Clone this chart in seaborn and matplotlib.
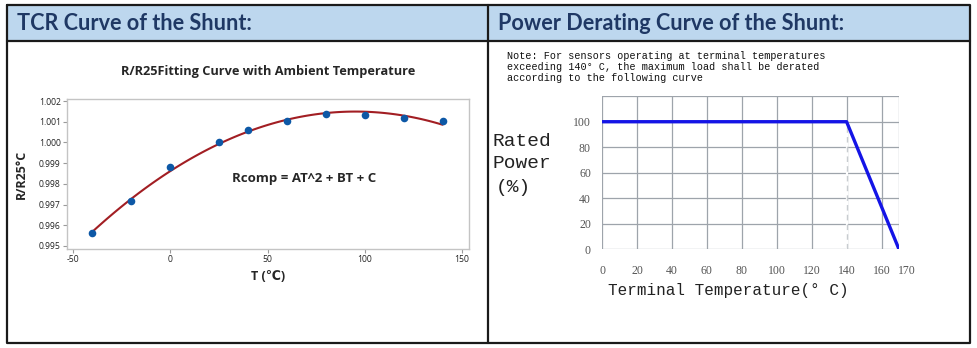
import matplotlib
matplotlib.use("Agg")
import matplotlib.pyplot as plt
import matplotlib.transforms as mtransforms
import seaborn as sns
import pandas as pd
from matplotlib.patches import Rectangle

# ---------------- data ----------------
tcr_temp = [-40, -20, 0, 25, 40, 60, 80, 100, 120, 140]
tcr_ratio = [0.99562, 0.99717, 0.99882, 1.00000, 1.00060, 1.00106,
             1.00136, 1.00133, 1.00119, 1.00104]
tcr_xticks = [-50, 0, 50, 100, 150]
tcr_yticks = [0.995, 0.996, 0.997, 0.998, 0.999, 1.000, 1.001, 1.002]

derate_temp = [0, 140, 170]
derate_power = [100, 100, 0]
derate_xticks = [0, 20, 40, 60, 80, 100, 120, 140, 160, 170]
derate_yticks = [0, 20, 40, 60, 80, 100]

W, H = 977, 348
sns.set_theme(style="white")
plt.rcParams["font.family"] = ["Open Sans", "DejaVu Sans"]

fig = plt.figure(figsize=(W / 100, H / 100), dpi=100)
fig.patch.set_facecolor("white")

def fax(l, t, r, b):
    return [l / W, (H - b) / H, (r - l) / W, (b - t) / H]

# ---------------- background frame ----------------
bg = fig.add_axes([0, 0, 1, 1], zorder=0)
bg.set_xlim(0, W)
bg.set_ylim(H, 0)
bg.axis("off")
bg.add_patch(Rectangle((6.5, 5), 963.5, 35, facecolor="#bdd7ee", edgecolor="none"))
lc = "#1a1a1a"
bg.plot([6.5, 970, 970, 6.5, 6.5], [5, 5, 342.5, 342.5, 5], color=lc, lw=1.6)
bg.plot([6.5, 970], [40.5, 40.5], color=lc, lw=1.6)
bg.plot([488, 488], [5, 342.5], color=lc, lw=1.6)
hdr = dict(fontsize=15.6, fontweight="bold", color="#1f3864", va="center",
           family=["Lato", "DejaVu Sans"])
bg.text(17, 23, "TCR Curve of the Shunt:", **hdr)
bg.text(498, 23, "Power Derating Curve of the Shunt:", **hdr)

# ---------------- left: TCR ----------------
ax1 = fig.add_axes(fax(67, 99, 469, 249), zorder=2)
df1 = pd.DataFrame({"T": tcr_temp, "R": tcr_ratio})
sns.regplot(data=df1, x="T", y="R", order=2, ci=None, ax=ax1,
            scatter_kws=dict(s=30, color="#0d58a6", zorder=3, linewidths=0, alpha=1),
            line_kws=dict(color="#a21e23", lw=1.5, zorder=2))
ax1.set_xlim(-53.1, 153.6)
ax1.set_ylim(0.99485, 1.0021)
ax1.set_xticks(tcr_xticks)
ax1.set_xticklabels([str(v) for v in tcr_xticks])
ax1.set_yticks(tcr_yticks)
ax1.set_yticklabels([f"{v:.3f}" for v in tcr_yticks])
for s in ax1.spines.values():
    s.set_color("#c4c4c4")
    s.set_linewidth(1.0)
ax1.tick_params(axis="both", labelsize=6.2, colors="#222222", length=3, width=0.8,
                direction="out", pad=1.5, bottom=True, left=True)
ax1.tick_params(axis="both", color="#9a9a9a")
ax1.set_xlabel("T (℃)", fontsize=9, fontweight="bold", labelpad=4)
ax1.set_ylabel("R/R25°C", fontsize=9, fontweight="bold", labelpad=8)
ax1.set_title("R/R25Fitting Curve with Ambient Temperature", fontsize=9.2,
              fontweight="bold", pad=17)
ax1.text(69, 0.99828, "Rcomp = AT^2 + BT + C", fontsize=9.5, fontweight="bold",
         ha="center", va="center")

# ---------------- right: derating ----------------
ax2 = fig.add_axes(fax(602, 96.2, 899, 249.3), zorder=2)
df2 = pd.DataFrame({"temp": derate_temp, "power": derate_power})
ax2.set_xlim(0, 170)
ax2.set_ylim(0, 120)
gc = "#9ea4ab"
for xv in derate_xticks:
    ax2.axvline(xv, color=gc, lw=0.9, zorder=1)
for yv in derate_yticks + [120]:
    ax2.axhline(yv, color=gc, lw=0.9, zorder=1)
ax2.vlines(140, 0, 100, color="white", lw=1.6, zorder=1.5)
ax2.vlines(140, 0, 100, color="#c8ccd0", lw=1.0, linestyles=(0, (4, 3)), zorder=1.6)
sns.lineplot(data=df2, x="temp", y="power", ax=ax2, color="#1414e6", lw=2.4,
             zorder=3, sort=False)
for s in ax2.spines.values():
    s.set_visible(False)
ax2.set_xticks(derate_xticks)
ax2.set_xticklabels([str(v) for v in derate_xticks])
ax2.set_yticks(derate_yticks)
ax2.set_yticklabels([str(v) for v in derate_yticks])
ax2.tick_params(axis="both", length=0, labelsize=8.5, colors="#555555")
ax2.tick_params(axis="x", pad=11)
ax2.tick_params(axis="y", pad=8)
for lab in ax2.get_xticklabels() + ax2.get_yticklabels():
    lab.set_family(["Liberation Serif", "DejaVu Serif"])
last = ax2.get_xticklabels()[-1]
last.set_transform(last.get_transform() +
                   mtransforms.ScaledTranslation(8 / 100, 0, fig.dpi_scale_trans))
ax2.set_xlabel("")
ax2.set_ylabel("")

mono = ["Liberation Mono", "DejaVu Sans Mono"]
ylab = dict(fontsize=14, family=mono, color="#222222", va="center", ha="left")
bg.text(492, 142, "Rated", **ylab)
bg.text(492, 163, "Power", **ylab)
bg.text(496, 187, "(%)", **ylab)
bg.text(728, 291, "Terminal Temperature(° C)", fontsize=11.5, family=mono,
        color="#222222", va="center", ha="center")
bg.text(507, 67, "Note: For sensors operating at terminal temperatures\n"
                 "exceeding 140° C, the maximum load shall be derated\n"
                 "according to the following curve",
        fontsize=7.3, family=mono, color="#111111", va="center", ha="left",
        linespacing=1.08)

fig.savefig("out.png", dpi=100)
